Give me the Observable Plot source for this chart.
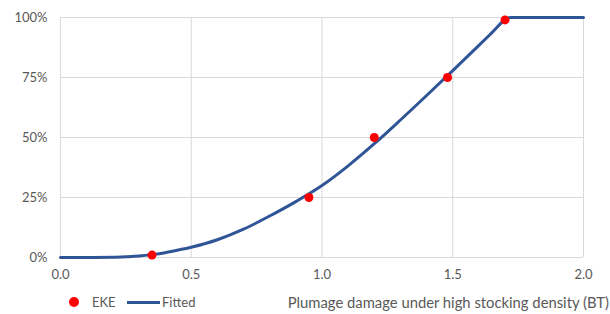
<!DOCTYPE html>
<html>
<head>
<meta charset="utf-8">
<script src="https://cdn.jsdelivr.net/npm/d3@7"></script>
<script src="https://cdn.jsdelivr.net/npm/@observablehq/plot@0.6"></script>
<style>
  html, body { margin: 0; padding: 0; background: #fff; }
  body { width: 610px; height: 314px; overflow: hidden; font-family: Lato, "Open Sans", sans-serif; }
  #chart { position: relative; width: 610px; height: 290px; }
  #bottom { position: relative; width: 610px; height: 24px; color: #595959; }
  .leg { position: absolute; top: 4px; font-size: 13px; display: flex; align-items: center; }
  #xtitle { position: absolute; right: 1px; top: 3px; font-size: 14.8px; white-space: nowrap; }
</style>
</head>
<body>
<div id="chart"></div>
<div id="bottom">
  <div class="leg" style="left:69px;"><span style="display:inline-block;width:10px;height:10px;border-radius:50%;background:#ff0000;"></span><span style="margin-left:13px;">EKE</span></div>
  <div class="leg" style="left:127px;"><span style="display:inline-block;width:33px;height:3px;background:#2f5597;"></span><span style="margin-left:2px;">Fitted</span></div>
  <div id="xtitle">Plumage damage under high stocking density (BT)</div>
</div>
<script>
// Expert knowledge elicitation (EKE) points
const ekeX = [0.35, 0.95, 1.2, 1.48, 1.7];
const ekeY = [0.01, 0.25, 0.50, 0.75, 0.99];

// Fitted curve
const fitX = [0, 0.1, 0.2, 0.25, 0.3, 0.35, 0.4, 0.45, 0.5, 0.6, 0.7, 0.8, 0.9, 1.0, 1.1, 1.2, 1.3, 1.4, 1.5, 1.6, 1.65, 1.7, 1.72, 1.8, 1.9, 2.0];
const fitY = [0, 0, 0.001, 0.003, 0.006, 0.012, 0.02, 0.031, 0.043, 0.074, 0.118, 0.173, 0.233, 0.3, 0.382, 0.474, 0.573, 0.675, 0.779, 0.884, 0.937, 0.99, 1.0, 1.0, 1.0, 1.0];

const xTicks = [0, 0.5, 1.0, 1.5, 2.0];
const yTicks = [0, 0.25, 0.5, 0.75, 1.0];

const eke = ekeX.map((x, i) => ({x, y: ekeY[i]}));
const fit = fitX.map((x, i) => ({x, y: fitY[i]}));

const chart = Plot.plot({
  width: 610,
  height: 290,
  marginLeft: 60,
  marginRight: 27,
  marginTop: 17,
  marginBottom: 33,
  style: {fontFamily: "Lato, 'Open Sans', sans-serif", fontSize: "13px", color: "#595959", background: "#fff"},
  x: {domain: [0, 2], ticks: xTicks, tickFormat: d3.format(".1f"), label: null, tickSize: 0, tickPadding: 12},
  y: {domain: [0, 1], ticks: yTicks, tickFormat: d => Math.round(d * 100) + "%", label: null, tickSize: 0, tickPadding: 13},
  marks: [
    Plot.ruleX(xTicks, {stroke: "#d9d9d9", strokeWidth: 1}),
    Plot.ruleY(yTicks, {stroke: "#d9d9d9", strokeWidth: 1}),
    Plot.axisX({ticks: xTicks, tickFormat: d3.format(".1f"), tickSize: 0, tickPadding: 12, fill: "#595959"}),
    Plot.axisY({ticks: yTicks, tickFormat: d => Math.round(d * 100) + "%", tickSize: 0, tickPadding: 13, fill: "#595959"}),
    Plot.line(fit, {x: "x", y: "y", stroke: "#2f5597", strokeWidth: 3, curve: "monotone-x"}),
    Plot.dot(eke, {x: "x", y: "y", r: 4.5, fill: "#ff0000", stroke: "none"})
  ]
});
document.getElementById("chart").appendChild(chart);
</script>
</body>
</html>
